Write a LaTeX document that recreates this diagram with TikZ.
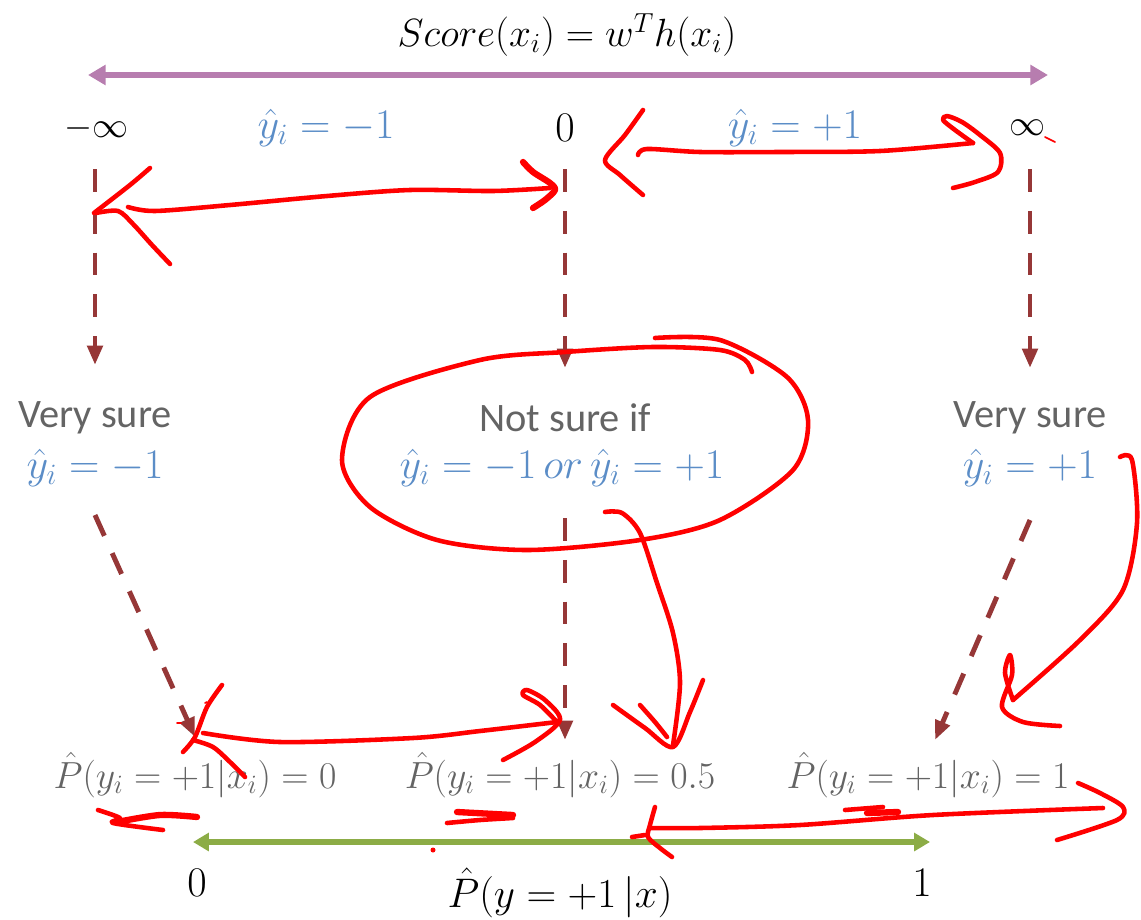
\RequirePackage{fix-cm}
\documentclass[tikz,border=0pt]{standalone}
\usepackage{amsmath,amssymb}
\usepackage{fontspec}
\newfontfamily\calibri{Carlito}
\usepackage{tikz}
\usetikzlibrary{arrows.meta,positioning,calc}
\definecolor{scorepurple}{RGB}{183,125,175}
\definecolor{probgreen}{RGB}{140,172,70}
\definecolor{dashbrown}{RGB}{150,55,55}
\definecolor{predblue}{RGB}{91,141,199}
\definecolor{wordgrey}{RGB}{100,100,100}
\definecolor{inkred}{RGB}{255,0,0}
\tikzset{
  lab/.style={font=\fontsize{20.5}{24}\selectfont, inner sep=0pt},
  pred/.style={font=\fontsize{24}{28}\selectfont, inner sep=0pt, text=predblue},
  prob/.style={font=\fontsize{21.5}{25}\selectfont, inner sep=0pt, text=wordgrey},
  word/.style={font=\fontsize{23}{27}\selectfont\calibri, text=wordgrey, inner sep=0pt},
  dasharrow/.style={draw=dashbrown, line width=2.8pt, dash pattern=on 13pt off 10.8pt,
    -{Triangle[length=11pt,width=8.5pt]}},
  ink/.style={draw=inkred, line width=2.6pt, line cap=round, line join=round},
}
\begin{document}
\begin{tikzpicture}[x=0.02cm,y=-0.02cm]
  \useasboundingbox (0,0) rectangle (1141,919);
  % Score axis
  \node[lab,font=\fontsize{22.4}{26}\selectfont] (title) at (567,35) {$Score(x_i) = w^T h(x_i)$};
  \coordinate (scoreL) at (88,75);
  \coordinate (scoreR) at (1048,75);
  \draw[scorepurple,line width=3.4pt,{Triangle[length=10pt,width=11pt]}-{Triangle[length=10pt,width=11pt]}]
    (scoreL) -- (scoreR);
  \node[lab] (neginf) at (97,128) {$-\infty$};
  \node[pred] (predNeg) at (326,128) {$\hat{y}_i = -1$};
  \node[lab,font=\fontsize{24}{28}\selectfont] (zero) at (565,128) {$0$};
  \node[pred] (predPos) at (795,128) {$\hat{y}_i = +1$};
  \node[lab] (posinf) at (1027,128) {$\infty$};
  % Middle row
  \node[word] (sureL) at (95,418) {Very sure};
  \node[pred] (predL) at (95,468) {$\hat{y}_i = -1$};
  \node[word] (sureM) at (565,418) {Not sure if};
  \node[pred] (predM) at (562,468) {$\hat{y}_i = -1\,or\,\hat{y}_i = +1$};
  \node[word] (sureR) at (1030,418) {Very sure};
  \node[pred] (predR) at (1030,468) {$\hat{y}_i = +1$};
  % Probability row
  \node[prob] (probL) at (195,775) {$\hat{P}(y_i ={+1}|x_i) = 0$};
  \node[prob] (probM) at (560,775) {$\hat{P}(y_i ={+1}|x_i) = 0.5$};
  \node[prob] (probR) at (928,775) {$\hat{P}(y_i ={+1}|x_i) = 1$};
  % Dashed links
  \draw[dasharrow] ($(neginf)+(-2,41)$) -- ($(sureL)+(0,-53)$);
  \draw[dasharrow] ($(zero)+(0,41)$) -- ($(sureM)+(0,-50)$);
  \draw[dasharrow] ($(posinf)+(3,41)$) -- ($(sureR)+(0,-50)$);
  \draw[dasharrow] ($(predL)+(0,47)$) -- ($(probL)+(0,-38)$);
  \draw[dasharrow] ($(predM)+(3,50)$) -- ($(probM)+(5,-35)$);
  \draw[dasharrow] ($(predR)+(0,52)$) -- ($(probR)+(7,-35)$);
  % Probability axis
  \coordinate (probAxL) at (193,842);
  \coordinate (probAxR) at (930,842);
  \draw[probgreen,line width=3.4pt,{Triangle[length=9pt,width=10pt]}-{Triangle[length=9pt,width=10pt]}]
    (probAxL) -- (probAxR);
  \node[pred,text=black] (zeroP) at (197,883) {$0$};
  \node[pred,text=black] (oneP) at (922,883) {$1$};
  \node[pred,text=black,font=\fontsize{23.5}{27}\selectfont] (axisP) at (560,893) {$\hat{P}(y ={+1}\,|x)$};
  % Red ink, top left
  \draw[ink] plot[smooth] coordinates {(150,168) (130,185) (94,213)};
  \draw[ink] plot[smooth] coordinates {(96,213) (118,211) (133,224) (152,245) (170,264)};
  \draw[ink] plot[smooth] coordinates {(128,207) (155,211) (230,205) (327,196) (410,190) (493,191) (550,188)};
  \draw[ink,line width=3.6pt] plot[smooth] coordinates {(523,162) (533,172) (550,183) (555,190) (545,200) (533,208)};
  % Red ink, top right
  \draw[ink] plot[smooth] coordinates {(643,110) (625,135) (605,160) (620,175) (643,195)};
  \draw[ink] plot[smooth] coordinates {(638,155) (647,149) (700,152) (780,152) (880,151) (973,143)};
  \draw[ink] plot[smooth] coordinates {(973,143) (955,130) (943,120) (947,116) (962,122) (980,135) (1000,153) (998,172) (975,182) (953,188)};
  \draw[ink,line width=1pt] (1045,137) -- (1055,142);
  % Red ink, loop round the middle
  \draw[ink] plot[smooth] coordinates {(655,338) (720,340) (787,377) (808,420) (793,470) (720,520) (640,540) (527,550) (437,540) (370,507) (342,460) (370,397) (480,360) (565,352) (653,347) (720,350) (745,360) (752,372)};
  \draw[ink] plot[smooth] coordinates {(605,512) (622,513) (640,533) (657,583) (673,633) (680,683) (673,745)};
  \draw[ink] plot[smooth] coordinates {(613,705) (645,728) (673,747) (690,712) (703,680)};
  \draw[ink] plot[smooth] coordinates {(640,705) (655,722) (667,737)};
  % Red ink, right side
  \draw[ink] plot[smooth] coordinates {(1120,457) (1132,460) (1137,523) (1123,590) (1080,640) (1013,700)};
  \draw[ink] plot[smooth] coordinates {(1013,700) (1005,673) (1010,655) (1012,675) (1002,707) (1023,722) (1060,726)};
  % Red ink, bottom left
  \draw[ink] plot[smooth] coordinates {(222,685) (207,707) (195,737) (183,752)};
  \draw[ink] plot[smooth] coordinates {(193,740) (213,747) (230,762) (245,777)};
  \draw[ink] plot[smooth] coordinates {(203,733) (280,742) (413,738) (480,731) (557,722)};
  \draw[ink] plot[smooth] coordinates {(557,722) (540,705) (523,695) (527,690) (545,700) (560,720) (535,742) (503,760)};
  \draw[ink,line width=1pt] (177,723) -- (181,723);
  \draw[ink,line width=1pt] (205,703) -- (207,702);
  % Red ink, small marks
  \draw[ink] plot[smooth] coordinates {(98,810) (120,818) (113,823) (163,830)};
  \draw[ink,line width=3.6pt] plot[smooth] coordinates {(117,822) (160,815) (197,817)};
  \draw[ink] plot[smooth] coordinates {(447,823) (480,820) (513,818)};
  \draw[ink,line width=3.6pt] (457,812) -- (513,815);
  \fill[inkred] (433,850) circle (2.5);
  \draw[ink] (845,810) -- (883,807);
  \draw[ink,line width=3.6pt] (867,813) -- (898,812);
  % Red ink, bottom right
  \draw[ink] plot[smooth] coordinates {(655,807) (650,825) (648,837) (660,848) (672,857)};
  \draw[ink] (632,837) -- (645,835);
  \draw[ink] plot[smooth] coordinates {(650,828) (700,828) (800,825) (933,815) (1103,808)};
  \draw[ink] plot[smooth] coordinates {(1078,783) (1100,793) (1123,807) (1117,820) (1057,840)};
\end{tikzpicture}
\end{document}
